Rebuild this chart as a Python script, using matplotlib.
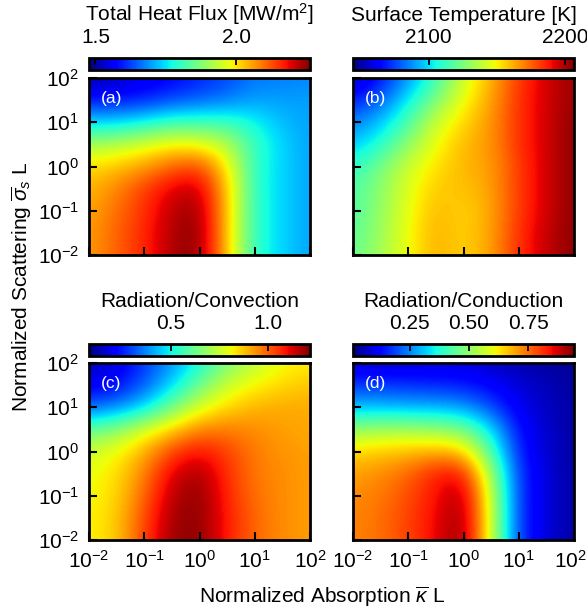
import numpy as np
import matplotlib
matplotlib.use('Agg')
import matplotlib.pyplot as plt
from matplotlib.ticker import NullLocator, FixedLocator, FuncFormatter
from matplotlib.transforms import ScaledTranslation

plt.rcParams['font.family'] = ['Liberation Sans', 'DejaVu Sans']
plt.rcParams['mathtext.fontset'] = 'custom'
plt.rcParams['mathtext.rm'] = 'Liberation Sans'
plt.rcParams['mathtext.it'] = 'Liberation Sans:italic'
plt.rcParams['mathtext.bf'] = 'Liberation Sans:bold'

# grid exponents (log10): absorption (columns), scattering (rows, top to bottom)
log_kappa = [-2.0, -1.5, -1.0, -0.5, 0.0, 0.5, 1.0, 1.5, 2.0]
log_sigma = [2.0, 1.5, 1.0, 0.5, 0.0, -0.5, -1.0, -1.5, -2.0]

heat_flux = [
    [1.50, 1.52, 1.55, 1.57, 1.60, 1.63, 1.67, 1.67, 1.68],
    [1.59, 1.59, 1.60, 1.63, 1.65, 1.67, 1.70, 1.70, 1.70],
    [1.74, 1.74, 1.77, 1.81, 1.81, 1.81, 1.77, 1.72, 1.70],
    [1.91, 1.93, 1.96, 1.99, 1.98, 1.93, 1.80, 1.74, 1.70],
    [2.01, 2.03, 2.06, 2.11, 2.14, 2.00, 1.79, 1.74, 1.70],
    [2.04, 2.08, 2.14, 2.20, 2.22, 2.03, 1.79, 1.74, 1.70],
    [2.05, 2.10, 2.15, 2.22, 2.25, 2.03, 1.79, 1.74, 1.70],
    [2.06, 2.11, 2.16, 2.23, 2.26, 2.03, 1.79, 1.74, 1.70],
    [2.06, 2.11, 2.16, 2.23, 2.26, 2.03, 1.79, 1.74, 1.70],
]

surface_temp = [
    [2051, 2067, 2088, 2113, 2142, 2161, 2182, 2195, 2203],
    [2069, 2080, 2103, 2126, 2148, 2164, 2184, 2195, 2203],
    [2085, 2096, 2116, 2142, 2155, 2166, 2184, 2195, 2205],
    [2096, 2109, 2130, 2148, 2160, 2166, 2184, 2195, 2205],
    [2111, 2124, 2142, 2153, 2161, 2164, 2182, 2195, 2205],
    [2116, 2129, 2145, 2158, 2158, 2164, 2182, 2195, 2205],
    [2117, 2130, 2147, 2161, 2155, 2163, 2182, 2195, 2205],
    [2119, 2132, 2148, 2163, 2155, 2164, 2184, 2197, 2205],
    [2121, 2134, 2148, 2163, 2155, 2164, 2184, 2197, 2205],
]

rad_conv = [
    [0.135, 0.180, 0.280, 0.385, 0.510, 0.646, 0.737, 0.805, 0.828],
    [0.192, 0.226, 0.320, 0.460, 0.625, 0.760, 0.816, 0.850, 0.873],
    [0.330, 0.370, 0.460, 0.630, 0.775, 0.850, 0.896, 0.907, 0.907],
    [0.610, 0.670, 0.775, 0.862, 0.953, 0.964, 0.941, 0.919, 0.907],
    [0.760, 0.805, 0.896, 1.032, 1.100, 1.032, 0.964, 0.930, 0.919],
    [0.794, 0.839, 0.953, 1.123, 1.180, 1.055, 0.964, 0.941, 0.919],
    [0.805, 0.850, 0.987, 1.157, 1.203, 1.066, 0.975, 0.941, 0.919],
    [0.816, 0.862, 1.021, 1.180, 1.203, 1.078, 0.987, 0.941, 0.919],
    [0.816, 0.862, 1.032, 1.191, 1.203, 1.078, 0.987, 0.941, 0.919],
]

rad_cond = [
    [0.076, 0.076, 0.076, 0.086, 0.086, 0.067, 0.048, 0.039, 0.030],
    [0.179, 0.179, 0.170, 0.160, 0.151, 0.123, 0.086, 0.058, 0.039],
    [0.300, 0.300, 0.291, 0.291, 0.272, 0.198, 0.104, 0.067, 0.039],
    [0.505, 0.524, 0.524, 0.505, 0.478, 0.338, 0.132, 0.076, 0.039],
    [0.645, 0.664, 0.673, 0.692, 0.664, 0.431, 0.151, 0.076, 0.039],
    [0.701, 0.720, 0.757, 0.832, 0.851, 0.524, 0.170, 0.086, 0.039],
    [0.720, 0.739, 0.785, 0.841, 0.916, 0.571, 0.170, 0.086, 0.039],
    [0.729, 0.748, 0.795, 0.851, 0.935, 0.580, 0.170, 0.086, 0.039],
    [0.729, 0.748, 0.795, 0.851, 0.944, 0.580, 0.170, 0.086, 0.039],
]

titles = ['Total Heat Flux [MW/m$^2$]', 'Surface Temperature [K]',
          'Radiation/Convection', 'Radiation/Conduction']
panel_labels = ['(a)', '(b)', '(c)', '(d)']
ranges = [(1.477, 2.263), (2044.6, 2206.7), (0.078, 1.214), (0.011, 0.944)]
cbar_ticks = [[1.5, 2.0], [2100, 2200], [0.5, 1.0], [0.25, 0.50, 0.75]]
cbar_fmt = ['{:.1f}', '{:.0f}', '{:.1f}', '{:.2f}']
decade_exps = [-2, -1, 0, 1, 2]

decade_fmt = FuncFormatter(lambda v, p: r'$\mathdefault{10^{%d}}$' % int(round(v)))

W, H = 587, 613
fig = plt.figure(figsize=(W / 100, H / 100), dpi=100)

lefts = [89, 353]
ax_tops = [78, 363]
ax_w, ax_h = 221, 177
cb_tops = [58, 344]
cb_h = 12

datasets = [heat_flux, surface_temp, rad_conv, rad_cond]
dk = (log_kappa[1] - log_kappa[0]) / 2
ds = (log_sigma[0] - log_sigma[1]) / 2
extent = [log_kappa[0] - dk, log_kappa[-1] + dk, log_sigma[-1] - ds, log_sigma[0] + ds]

axes = []
for i in range(4):
    r, c = divmod(i, 2)
    L = lefts[c]
    T = ax_tops[r]
    ax = fig.add_axes([L / W, (H - T - ax_h) / H, ax_w / W, ax_h / H])
    cax = fig.add_axes([L / W, (H - cb_tops[r] - cb_h) / H, ax_w / W, cb_h / H])
    axes.append(ax)
    vmin, vmax = ranges[i]
    im = ax.imshow(np.array(datasets[i], dtype=float), cmap='jet', vmin=vmin, vmax=vmax,
                   origin='upper', extent=extent, interpolation='bicubic', aspect='auto')
    ax.set_xlim(log_kappa[0], log_kappa[-1])
    ax.set_ylim(log_sigma[-1], log_sigma[0])
    ax.xaxis.set_major_locator(FixedLocator(decade_exps))
    ax.yaxis.set_major_locator(FixedLocator(decade_exps))
    ax.xaxis.set_major_formatter(decade_fmt)
    ax.yaxis.set_major_formatter(decade_fmt)
    ax.tick_params(direction='in', length=6, width=1.5, labelsize=15, pad=7)
    if r == 0:
        ax.tick_params(labelbottom=False)
    if c == 1:
        ax.tick_params(labelleft=False)
    for s in ax.spines.values():
        s.set_linewidth(2)
    ax.text(0.055, 0.885, panel_labels[i], transform=ax.transAxes, color='white',
            fontsize=12.5, ha='left', va='center')

    cb = fig.colorbar(im, cax=cax, orientation='horizontal', ticklocation='top')
    cb.set_ticks(cbar_ticks[i])
    cb.set_ticklabels([cbar_fmt[i].format(t) for t in cbar_ticks[i]])
    cb.ax.xaxis.set_minor_locator(NullLocator())
    cb.ax.tick_params(direction='in', length=5, width=1.3, labelsize=15, pad=8)
    cb.outline.set_linewidth(2)
    cax.set_title(titles[i], fontsize=15, pad=5)

fig.text(322 / W, (H - 597) / H, r'Normalized Absorption $\overline{\kappa}$ L',
         fontsize=15, ha='center', va='center')
fig.text(22 / W, (H - 287) / H, r'Normalized Scattering $\overline{\sigma}_s$ L',
         fontsize=15, ha='center', va='center', rotation=90)

# nudge the right-most x tick label of panel (d) so it stays inside the figure
fig.canvas.draw()
last_tick = axes[3].xaxis.get_major_ticks()[-1]
last_tick.label1.set_transform(last_tick.label1.get_transform() +
                               ScaledTranslation(-4 / 100, 0, fig.dpi_scale_trans))

fig.savefig('out.png', dpi=100)
